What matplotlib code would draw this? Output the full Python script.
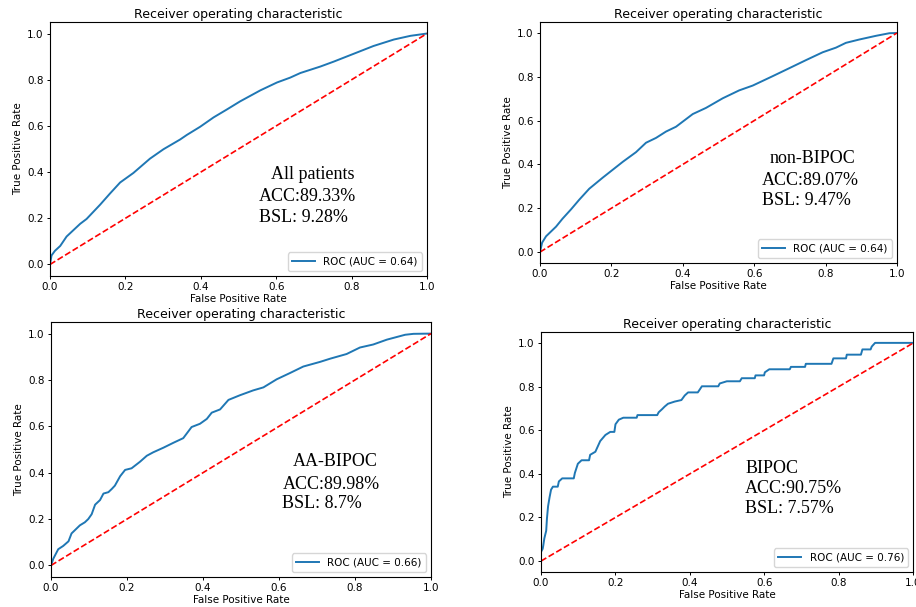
import matplotlib
matplotlib.use("Agg")
import matplotlib.pyplot as plt

# ROC points
fpr_all = [0.0, 0.004, 0.013, 0.027, 0.044, 0.08, 0.097, 0.133, 0.159, 0.186, 0.221, 0.265,
           0.301, 0.345, 0.363, 0.398, 0.434, 0.469, 0.504, 0.558, 0.602, 0.637, 0.664, 0.717,
           0.752, 0.805, 0.858, 0.912, 0.956, 1.0]
tpr_all = [0.0, 0.039, 0.059, 0.08, 0.121, 0.176, 0.197, 0.259, 0.307, 0.355, 0.396, 0.458,
           0.499, 0.541, 0.561, 0.596, 0.637, 0.671, 0.706, 0.754, 0.788, 0.809, 0.829, 0.857,
           0.878, 0.912, 0.946, 0.974, 0.99, 1.0]

fpr_non = [0.0, 0.006, 0.017, 0.045, 0.063, 0.087, 0.11, 0.138, 0.176, 0.204, 0.232, 0.269,
           0.297, 0.325, 0.353, 0.381, 0.428, 0.465, 0.512, 0.558, 0.596, 0.652, 0.698, 0.745,
           0.792, 0.829, 0.857, 0.894, 0.941, 0.979, 1.0]
tpr_non = [0.0, 0.043, 0.072, 0.116, 0.152, 0.195, 0.239, 0.289, 0.34, 0.376, 0.412, 0.456,
           0.499, 0.521, 0.55, 0.572, 0.63, 0.658, 0.702, 0.738, 0.76, 0.803, 0.839, 0.876,
           0.912, 0.933, 0.955, 0.97, 0.987, 0.999, 1.0]

fpr_aa = [0.0, 0.006, 0.019, 0.032, 0.046, 0.054, 0.076, 0.089, 0.098, 0.107, 0.116, 0.129,
          0.138, 0.151, 0.16, 0.168, 0.182, 0.195, 0.212, 0.234, 0.252, 0.269, 0.296, 0.322,
          0.348, 0.37, 0.392, 0.41, 0.423, 0.445, 0.467, 0.497, 0.532, 0.559, 0.594, 0.629,
          0.664, 0.708, 0.735, 0.778, 0.813, 0.848, 0.884, 0.932, 0.954, 1.0]
tpr_aa = [0.0, 0.029, 0.07, 0.084, 0.104, 0.138, 0.173, 0.186, 0.2, 0.221, 0.262, 0.282,
          0.31, 0.316, 0.33, 0.344, 0.385, 0.412, 0.419, 0.447, 0.473, 0.488, 0.508, 0.529,
          0.549, 0.597, 0.611, 0.632, 0.659, 0.673, 0.714, 0.734, 0.755, 0.768, 0.803, 0.83,
          0.858, 0.878, 0.892, 0.912, 0.94, 0.953, 0.974, 0.995, 0.999, 1.0]

fpr_bipoc = [0.0, 0.0045, 0.006, 0.009, 0.014, 0.016, 0.019, 0.023, 0.027, 0.032, 0.045, 0.048,
             0.057, 0.088, 0.091, 0.099, 0.109, 0.129, 0.132, 0.146, 0.159, 0.173, 0.186, 0.197,
             0.2, 0.209, 0.221, 0.257, 0.259, 0.312, 0.316, 0.325, 0.332, 0.341, 0.359, 0.377,
             0.386, 0.395, 0.421, 0.427, 0.432, 0.476, 0.48, 0.499, 0.534, 0.539, 0.574, 0.576,
             0.599, 0.601, 0.613, 0.668, 0.671, 0.709, 0.711, 0.78, 0.785, 0.819, 0.821, 0.859,
             0.863, 0.885, 0.888, 0.897, 1.0]
tpr_bipoc = [0.042, 0.056, 0.07, 0.104, 0.139, 0.195, 0.251, 0.292, 0.327, 0.341, 0.341, 0.365,
             0.379, 0.379, 0.404, 0.446, 0.462, 0.462, 0.487, 0.501, 0.55, 0.578, 0.592, 0.592,
             0.627, 0.648, 0.657, 0.657, 0.669, 0.669, 0.682, 0.696, 0.708, 0.721, 0.731, 0.738,
             0.759, 0.773, 0.773, 0.788, 0.801, 0.801, 0.814, 0.824, 0.824, 0.838, 0.838, 0.851,
             0.851, 0.865, 0.879, 0.879, 0.89, 0.89, 0.904, 0.904, 0.929, 0.929, 0.946, 0.946,
             0.97, 0.97, 0.983, 1.0, 1.0]

groups = ["All patients", "non-BIPOC", "AA-BIPOC", "BIPOC"]
acc = ["89.33%", "89.07%", "89.98%", "90.75%"]
bsl = ["9.28%", "9.47%", "8.7%", "7.57%"]
auc = [0.64, 0.64, 0.66, 0.76]
curves = [(fpr_all, tpr_all), (fpr_non, tpr_non), (fpr_aa, tpr_aa), (fpr_bipoc, tpr_bipoc)]

# each panel was pasted in at a slightly different size
axes_rects = [
    [0.0546, 0.5453, 0.4116, 0.4185],
    [0.5895, 0.5667, 0.3897, 0.3970],
    [0.0557, 0.0494, 0.4148, 0.4201],
    [0.5906, 0.0577, 0.4066, 0.3954],
]
# (name x, name y, stats x, acc y, bsl y) in data coords
text_pos = [
    (0.585, 0.369, 0.553, 0.276, 0.186),
    (0.642, 0.407, 0.621, 0.307, 0.213),
    (0.636, 0.429, 0.609, 0.330, 0.246),
    (0.548, 0.404, 0.548, 0.311, 0.220),
]

fig = plt.figure(figsize=(9.16, 6.07), dpi=100)
for i in range(4):
    ax = fig.add_axes(axes_rects[i])
    fpr, tpr = curves[i]
    ax.plot(fpr, tpr, color="#1f77b4", lw=1.4, label=f"ROC (AUC = {auc[i]:.2f})")
    ax.plot([0, 1], [0, 1], "r--", lw=1.2)
    ax.set_xlim(0.0, 1.0)
    ax.set_ylim(-0.05, 1.05)
    ax.set_title("Receiver operating characteristic", fontsize=9, pad=3)
    ax.set_xlabel("False Positive Rate", fontsize=7.5, labelpad=1)
    ax.set_ylabel("True Positive Rate", fontsize=7.5, labelpad=3)
    ax.tick_params(labelsize=7.5, length=2.5, width=0.7, pad=2)
    for s in ax.spines.values():
        s.set_linewidth(0.8)
    ax.legend(loc="lower right", fontsize=7.5, handlelength=2.2)

    nx, ny, sx, ay, by = text_pos[i]
    ax.text(nx, ny, groups[i], family="Liberation Serif", fontsize=13, va="baseline")
    ax.text(sx, ay, "ACC:" + acc[i], family="Liberation Serif", fontsize=13, va="baseline")
    ax.text(sx, by, "BSL: " + bsl[i], family="Liberation Serif", fontsize=13, va="baseline")

fig.savefig("out.png", dpi=100)
